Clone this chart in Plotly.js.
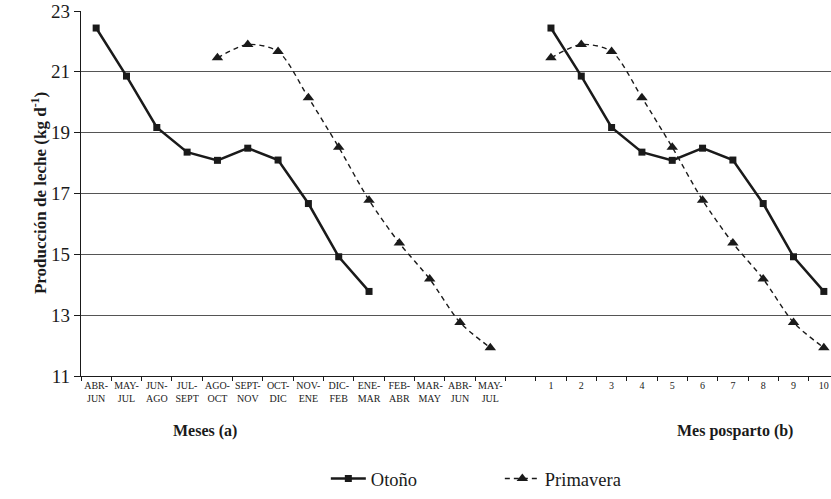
<!DOCTYPE html>
<html>
<head>
<meta charset="utf-8">
<script src="https://cdn.plot.ly/plotly-3.0.1.min.js"></script>
<style>
  html, body { margin: 0; padding: 0; overflow: hidden; background: #fff; }
  #chart { width: 840px; height: 499px; }
</style>
</head>
<body>
<div id="chart"></div>
<script>
// Month categories (panel a) and month-postpartum categories (panel b)
const monthCats = ["ABR-JUN","MAY-JUL","JUN-AGO","JUL-SEPT","AGO-OCT","SEPT-NOV","OCT-DIC","NOV-ENE","DIC-FEB","ENE-MAR","FEB-ABR","MAR-MAY","ABR-JUN2","MAY-JUL2"];
const monthLabels = ["ABR-<br>JUN","MAY-<br>JUL","JUN-<br>AGO","JUL-<br>SEPT","AGO-<br>OCT","SEPT-<br>NOV","OCT-<br>DIC","NOV-<br>ENE","DIC-<br>FEB","ENE-<br>MAR","FEB-<br>ABR","MAR-<br>MAY","ABR-<br>JUN","MAY-<br>JUL"];
const gapCat = [" "];
const posCats = ["1","2","3","4","5","6","7","8","9","10"];

// Milk production (kg/d)
const otono = [22.44, 20.86, 19.17, 18.36, 18.09, 18.49, 18.10, 16.67, 14.92, 13.78];
const primavera = [21.46, 21.90, 21.67, 20.15, 18.52, 16.78, 15.37, 14.19, 12.76, 11.93];

// Calendar months for each series (panel a)
const otonoMonths = monthCats.slice(0, 10);
const primaveraMonths = monthCats.slice(4, 14);

const yTicks = [11, 13, 15, 17, 19, 21, 23];

const allCats = monthCats.concat(gapCat, posCats);
const allLabels = monthLabels.concat([""], posCats);

const serif = "'Liberation Serif', 'Times New Roman', Times, serif";

const otonoStyle = {
  mode: "lines+markers",
  line: { color: "#1a1a1a", width: 2.5 },
  marker: { symbol: "square", size: 7, color: "#1a1a1a" }
};
const primStyle = {
  mode: "lines+markers",
  line: { color: "#1a1a1a", width: 1.4, dash: "5px,4px", shape: "spline", smoothing: 0.8 },
  marker: { symbol: "triangle-up", size: 10, color: "#1a1a1a" }
};

const traces = [
  Object.assign({ x: otonoMonths, y: otono, name: "Otoño", legendgroup: "o", showlegend: true }, otonoStyle),
  Object.assign({ x: primaveraMonths, y: primavera, name: "Primavera", legendgroup: "p", showlegend: true }, primStyle),
  Object.assign({ x: posCats, y: otono, name: "Otoño", legendgroup: "o", showlegend: false }, otonoStyle),
  Object.assign({ x: posCats, y: primavera, name: "Primavera", legendgroup: "p", showlegend: false }, primStyle)
];

const layout = {
  width: 840,
  height: 499,
  margin: { l: 81, r: 1, t: 11, b: 119 },
  paper_bgcolor: "#fff",
  plot_bgcolor: "#fff",
  font: { family: serif, color: "#1a1a1a" },
  showlegend: true,
  legend: {
    orientation: "h",
    x: 0.323, xanchor: "left",
    y: -0.282, yanchor: "middle",
    font: { family: serif, size: 18.5, color: "#1a1a1a" },
    itemwidth: 35,
    entrywidth: 124,
    entrywidthmode: "pixels",
    traceorder: "normal"
  },
  xaxis: {
    type: "category",
    categoryorder: "array",
    categoryarray: allCats,
    tickmode: "array",
    tickvals: allCats,
    ticktext: allLabels,
    tickson: "boundaries",
    ticks: "outside",
    ticklen: 4,
    tickcolor: "#1a1a1a",
    tickfont: { family: serif, size: 10, color: "#1a1a1a" },
    tickangle: 0,
    showline: true,
    linecolor: "#1a1a1a",
    linewidth: 1.2,
    showgrid: false,
    zeroline: false,
    range: [-0.5, 24.5],
    fixedrange: true
  },
  yaxis: {
    range: [11, 23],
    tickmode: "array",
    tickvals: yTicks,
    ticks: "outside",
    ticklen: 6,
    tickcolor: "#1a1a1a",
    tickfont: { family: serif, size: 19, color: "#1a1a1a" },
    showline: true,
    linecolor: "#1a1a1a",
    linewidth: 1.2,
    showgrid: true,
    gridcolor: "#555",
    gridwidth: 1.3,
    zeroline: false,
    fixedrange: true
  },
  annotations: [
    { text: "<b>Producción de leche (kg d<sup>-1</sup>)</b>", xref: "paper", yref: "paper",
      x: -0.056, y: 0.5, textangle: -90, showarrow: false, xanchor: "center", yanchor: "middle",
      font: { family: serif, size: 17, color: "#1a1a1a" } },
    { text: "<b>Meses (a)</b>", xref: "paper", yref: "paper",
      x: 0.1636, y: -0.152, showarrow: false, xanchor: "center", yanchor: "middle",
      font: { family: serif, size: 16, color: "#1a1a1a" } },
    { text: "<b>Mes posparto (b)</b>", xref: "paper", yref: "paper",
      x: 0.863, y: -0.152, showarrow: false, xanchor: "center", yanchor: "middle",
      font: { family: serif, size: 16, color: "#1a1a1a" } }
  ]
};

Plotly.newPlot("chart", traces, layout, { displayModeBar: false, staticPlot: true });
</script>
</body>
</html>
